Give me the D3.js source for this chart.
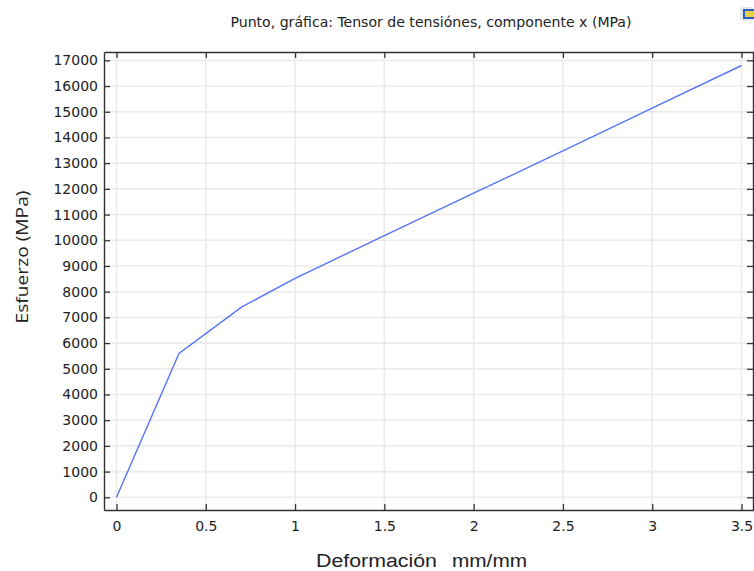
<!DOCTYPE html>
<html>
<head>
<meta charset="utf-8">
<script src="https://cdn.jsdelivr.net/npm/d3@7"></script>
<style>
  body { margin: 0; background: #fff; }
  text { fill: #222; }
</style>
</head>
<body>
<svg id="chart" width="754" height="571"></svg>
<script>
// data (strain mm/mm vs stress MPa)
var strain = [0, 0.35, 0.7, 1, 1.5, 2, 2.5, 3, 3.5];
var stress = [0, 5600, 7400, 8520, 10180, 11830, 13480, 15140, 16800];
var xTicks = [0, 0.5, 1, 1.5, 2, 2.5, 3, 3.5];
var yTicks = d3.range(0, 17001, 1000);

var svg = d3.select("#chart"),
  plotLeft = 104, plotRight = 754, plotTop = 52, plotBottom = 510;

var x = d3.scaleLinear().domain([-0.07, 3.57]).range([plotLeft, plotRight]);
var y = d3.scaleLinear().domain([-494, 17325]).range([plotBottom, plotTop]);

// grid lines
svg.append("g").selectAll("line").data(xTicks).enter().append("line")
  .attr("x1", d => x(d)).attr("x2", d => x(d))
  .attr("y1", plotTop).attr("y2", plotBottom)
  .attr("stroke", "#ebebeb").attr("stroke-width", 1.6);
svg.append("g").selectAll("line").data(yTicks).enter().append("line")
  .attr("x1", plotLeft).attr("x2", plotRight)
  .attr("y1", d => y(d)).attr("y2", d => y(d))
  .attr("stroke", "#ebebeb").attr("stroke-width", 1.6);

// axes with inward ticks
var axisFont = "DejaVu Sans, sans-serif";
var gx = svg.append("g").attr("transform", "translate(0," + plotBottom + ")")
  .call(d3.axisBottom(x).tickValues(xTicks).tickSizeInner(-6).tickSizeOuter(0).tickPadding(11).tickFormat(d3.format("")));
var gxTop = svg.append("g").attr("transform", "translate(0," + plotTop + ")")
  .call(d3.axisTop(x).tickValues(xTicks).tickSizeInner(-6).tickSizeOuter(0).tickFormat(""));
var gy = svg.append("g").attr("transform", "translate(" + plotLeft + ",0)")
  .call(d3.axisLeft(y).tickValues(yTicks).tickSizeInner(-6).tickSizeOuter(0).tickPadding(6).tickFormat(d3.format("d")));
var gyRight = svg.append("g").attr("transform", "translate(" + (plotRight - 1) + ",0)")
  .call(d3.axisRight(y).tickValues(yTicks).tickSizeInner(-6).tickSizeOuter(0).tickFormat(""));

[gx, gxTop, gy, gyRight].forEach(function(g) {
  g.selectAll("path").attr("stroke", "#333").attr("stroke-width", 1.4);
  g.selectAll("line").attr("stroke", "#333").attr("stroke-width", 1.3);
  g.selectAll("text").style("font-family", axisFont).style("font-size", "14px").attr("fill", "#222");
});

// the curve
svg.append("path")
  .datum(d3.zip(strain, stress))
  .attr("fill", "none")
  .attr("stroke", "#5674f6")
  .attr("stroke-width", 1.4)
  .attr("d", d3.line().x(d => x(d[0])).y(d => y(d[1])));

// title and labels
svg.append("text")
  .attr("x", 431).attr("y", 27)
  .attr("text-anchor", "middle")
  .attr("textLength", 401).attr("lengthAdjust", "spacingAndGlyphs")
  .style("font-family", "DejaVu Sans Condensed, DejaVu Sans, sans-serif")
  .style("font-size", "14px")
  .text("Punto, gráfica: Tensor de tensiónes, componente x (MPa)");

svg.append("text")
  .attr("x", 316).attr("y", 567)
  .attr("textLength", 121).attr("lengthAdjust", "spacingAndGlyphs")
  .style("font-family", "Liberation Sans, Arial, sans-serif")
  .style("font-size", "18px")
  .text("Deformación");
svg.append("text")
  .attr("x", 452).attr("y", 567)
  .attr("textLength", 75).attr("lengthAdjust", "spacingAndGlyphs")
  .style("font-family", "Liberation Sans, Arial, sans-serif")
  .style("font-size", "18px")
  .text("mm/mm");

svg.append("text")
  .attr("transform", "translate(28,257) rotate(-90)")
  .attr("text-anchor", "middle")
  .attr("textLength", 133).attr("lengthAdjust", "spacingAndGlyphs")
  .style("font-family", "Open Sans, sans-serif")
  .style("font-size", "17px")
  .text("Esfuerzo (MPa)");

// small window icon in the corner
svg.append("rect").attr("x", 740).attr("y", 7).attr("width", 14).attr("height", 14)
  .attr("rx", 3).attr("fill", "#e4e8ee");
svg.append("rect").attr("x", 743).attr("y", 9).attr("width", 11).attr("height", 10)
  .attr("fill", "#2a5fc0");
svg.append("rect").attr("x", 745).attr("y", 11).attr("width", 9).attr("height", 6)
  .attr("fill", "#e8d040");
</script>
</body>
</html>
